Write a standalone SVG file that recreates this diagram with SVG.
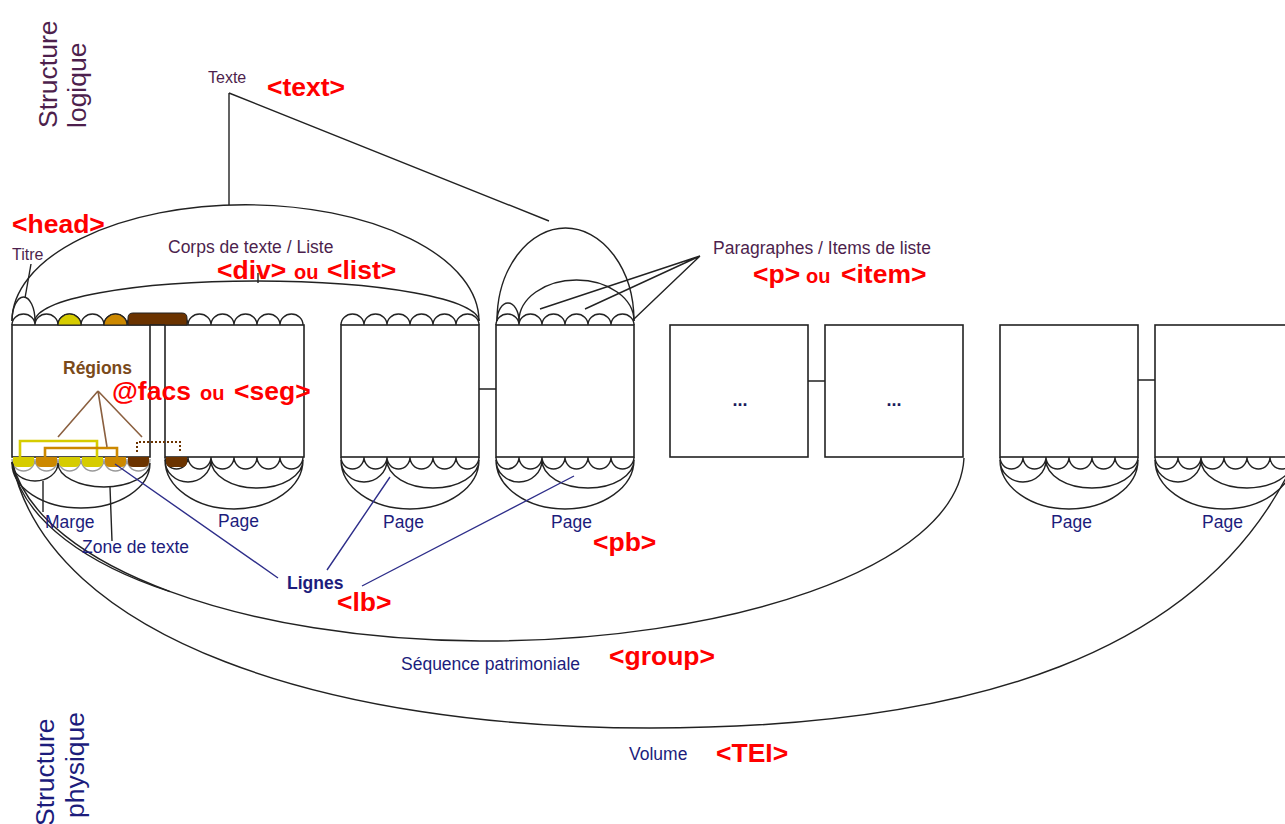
<svg xmlns="http://www.w3.org/2000/svg" xmlns:xlink="http://www.w3.org/1999/xlink" width="1285" height="824" viewBox="0 0 1285 824">
<style>
text{font-family:"Liberation Sans",Arial,sans-serif}
.pur{fill:#4d1f4d}
.nav{fill:#1c1c7c}
.red{fill:#ff0000;font-weight:bold;font-size:26.5px}
.ou{fill:#ff0000;font-weight:bold;font-size:20px}
.lab{font-size:17.5px}
.page{fill:#fff;stroke:#222;stroke-width:1.6}
.ln{fill:none;stroke:#222;stroke-width:1.4}
.gr{fill:none;stroke:#999;stroke-width:1.4}
.nl{fill:none;stroke:#2e2e8a;stroke-width:1.4}
.bl{fill:none;stroke:#8b6040;stroke-width:1.6}
</style>
<defs>
<path id="topb" d="M0,0 a11.5,11 0 0 1 23,0 a11.5,11 0 0 1 23,0 a11.5,11 0 0 1 23,0 a11.5,11 0 0 1 23,0 a11.5,11 0 0 1 23,0 a11.5,11 0 0 1 23,0"/>
<path id="botb" d="M0,0 a11.5,12 0 0 0 23,0 a11.5,12 0 0 0 23,0 a11.5,12 0 0 0 23,0 a11.5,12 0 0 0 23,0 a11.5,12 0 0 0 23,0 a11.5,12 0 0 0 23,0"/>
<path id="bota" d="M0,3 a23,22 0 0 0 46,0 M46,3 a46,28 0 0 0 92,0 M0,3 a69,49 0 0 0 138,0"/>
<path id="cb" d="M1,0 h21 v5 q0,5 -5,5 h-11 q-5,0 -5,-5 z"/>
<path id="tc" d="M0,0 a11.5,11 0 0 1 23,0 z"/>
</defs>
<rect width="1285" height="824" fill="#fff"/>

<!-- side titles -->
<g id="structure-logique">
<text class="pur" font-size="26.5" transform="translate(57,128) rotate(-90)">Structure</text>
<text class="pur" font-size="26.5" transform="translate(86,128) rotate(-90)">logique</text>
</g>
<g id="structure-physique">
<text class="nav" font-size="26.5" transform="translate(54,826) rotate(-90)">Structure</text>
<text class="nav" font-size="26.5" transform="translate(84,818) rotate(-90)">physique</text>
</g>

<!-- pages -->
<g id="page1">
<rect class="page" x="12" y="325" width="138" height="132"/>
<use href="#topb" x="12" y="325" class="ln"/>
<use href="#tc" x="58" y="325" fill="#d6cc00" stroke="#222" stroke-width="1.2"/>
<use href="#tc" x="104" y="325" fill="#cc8800" stroke="#222" stroke-width="1.2"/>
<use href="#botb" x="12" y="459" class="gr"/>
<use href="#cb" x="12" y="457" fill="#d6cc00"/>
<use href="#cb" x="35" y="457" fill="#cc8800"/>
<use href="#cb" x="58" y="457" fill="#d6cc00"/>
<use href="#cb" x="81" y="457" fill="#d6cc00"/>
<use href="#cb" x="104" y="457" fill="#cc8800"/>
<use href="#cb" x="127" y="457" fill="#6b3300"/>
<path class="ln" d="M12,463 A23,18 0 0 0 58,463 M58,463 A46,24 0 0 0 150,463 M12,463 A69,45 0 0 0 150,463"/>
<path d="M20,457 V441 H97 V457" fill="none" stroke="#d6cc00" stroke-width="2.6"/>
<path d="M45,457 V448 H117 V457" fill="none" stroke="#cc8800" stroke-width="2.6"/>
</g>
<g id="page2">
<rect class="page" x="165" y="325" width="139" height="132"/>
<use href="#topb" x="165" y="325" class="ln"/>
<use href="#botb" x="165" y="457" class="ln"/>
<use href="#cb" x="165" y="457" fill="#6b3300"/>
<use href="#bota" x="165" y="457" class="ln"/>
<text class="nav lab" x="218" y="527">Page</text>
</g>
<g id="page3">
<rect class="page" x="341" y="325" width="138" height="132"/>
<use href="#topb" x="341" y="325" class="ln"/>
<use href="#botb" x="341" y="457" class="ln"/>
<use href="#bota" x="341" y="457" class="ln"/>
<text class="nav lab" x="383" y="528">Page</text>
</g>
<g id="page4">
<rect class="page" x="496" y="325" width="138" height="132"/>
<use href="#topb" x="496" y="325" class="ln"/>
<use href="#botb" x="496" y="457" class="ln"/>
<use href="#bota" x="496" y="457" class="ln"/>
<text class="nav lab" x="551" y="528">Page</text>
</g>
<g id="page5">
<rect class="page" x="670" y="325" width="138" height="132"/>
<text x="740" y="406" text-anchor="middle" font-size="18" font-weight="bold" fill="#1c1c5c">...</text>
</g>
<g id="page6">
<rect class="page" x="825" y="325" width="138" height="132"/>
<text x="894" y="406" text-anchor="middle" font-size="18" font-weight="bold" fill="#1c1c5c">...</text>
</g>
<g id="page7">
<rect class="page" x="1000" y="325" width="138" height="132"/>
<use href="#botb" x="1000" y="457" class="ln"/>
<use href="#bota" x="1000" y="457" class="ln"/>
<text class="nav lab" x="1051" y="528">Page</text>
</g>
<g id="page8">
<rect class="page" x="1155" y="325" width="138" height="132"/>
<use href="#botb" x="1155" y="457" class="ln"/>
<use href="#bota" x="1155" y="457" class="ln"/>
<text class="nav lab" x="1202" y="528">Page</text>
</g>

<!-- region brown marks -->
<g id="regions">
<path d="M128,325 V318 Q128,313 133,313 H182 Q187,313 187,318 V325 Z" fill="#6b3300" stroke="#222" stroke-width="1"/>
<path d="M137,452 V442 H180 V452" fill="none" stroke="#6b3300" stroke-width="2" stroke-dasharray="2,2"/>
<text x="63" y="374" font-size="17.5" font-weight="bold" fill="#7a4a1a">Régions</text>
<text class="red" x="112" y="400">@facs</text>
<text class="ou" x="200" y="400">ou</text>
<text class="red" x="234" y="400">&lt;seg&gt;</text>
</g>

<!-- connectors -->
<g id="connectors">
<path class="ln" d="M150,325 H165 M479,389 H496 M808,381 H825 M1138,380 H1155"/>
<path class="ln" d="M12,321 A233,116 0 0 1 479,321"/>
<path class="ln" d="M35,321 A222,40 0 0 1 479,321"/>
<path class="ln" d="M12,321 A11.5,24 0 0 1 35,321"/>
<path class="ln" d="M497,321 A68.5,93 0 0 1 634,321"/>
<path class="ln" d="M519,321 A57.5,41 0 0 1 634,321"/>
<path class="ln" d="M497,321 A11,18 0 0 1 519,321"/>
<path class="ln" d="M229,93 V205 M229,93 L549,221"/>
<path class="ln" d="M258,273 V283"/>
<path class="ln" d="M31,264 L25,298"/>
<path class="ln" d="M700,256 L540,309 M700,256 L585,309 M700,256 L634,319"/>
<path class="bl" d="M98,391 L58,437 M98,391 L107,447 M98,391 L142,437"/>
<path class="ln" d="M43,481 V512 M110,487 L112,541"/>
<path class="nl" d="M115,464 L278,578 M390,477 L327,570 M574,476 L362,586"/>
<path class="ln" d="M12,462 C40,570 250,640 480,641 C720,642 958,570 964,458"/>
<path class="ln" d="M12,462 C22,522 92,566 170,591.6"/>
<path class="ln" d="M12,462 C50,640 330,728 650,728 C980,728 1200,650 1290,470"/>
</g>

<!-- labels -->
<g id="labels">
<text class="pur" x="208" y="83" font-size="16">Texte</text>
<text class="red" x="267" y="96">&lt;text&gt;</text>
<text class="red" x="12" y="233">&lt;head&gt;</text>
<text class="pur" x="12" y="260" font-size="16">Titre</text>
<text class="pur lab" x="168" y="253">Corps de texte / Liste</text>
<text class="red" x="217" y="279">&lt;div&gt;</text>
<text class="ou" x="294" y="279">ou</text>
<text class="red" x="327" y="279">&lt;list&gt;</text>
<text class="pur lab" x="713" y="254">Paragraphes / Items de liste</text>
<text class="red" x="753" y="283">&lt;p&gt;</text>
<text class="ou" x="806" y="283">ou</text>
<text class="red" x="841" y="283">&lt;item&gt;</text>
<text class="nav lab" x="45" y="528">Marge</text>
<text class="nav lab" x="82" y="553">Zone de texte</text>
<text class="red" x="593" y="551">&lt;pb&gt;</text>
<text class="nav lab" x="287" y="589" font-weight="bold">Lignes</text>
<text class="red" x="337" y="611">&lt;lb&gt;</text>
<text class="nav lab" x="401" y="670">Séquence patrimoniale</text>
<text class="red" x="609" y="665">&lt;group&gt;</text>
<text class="nav lab" x="629" y="760">Volume</text>
<text class="red" x="716" y="762">&lt;TEI&gt;</text>
</g>
</svg>
